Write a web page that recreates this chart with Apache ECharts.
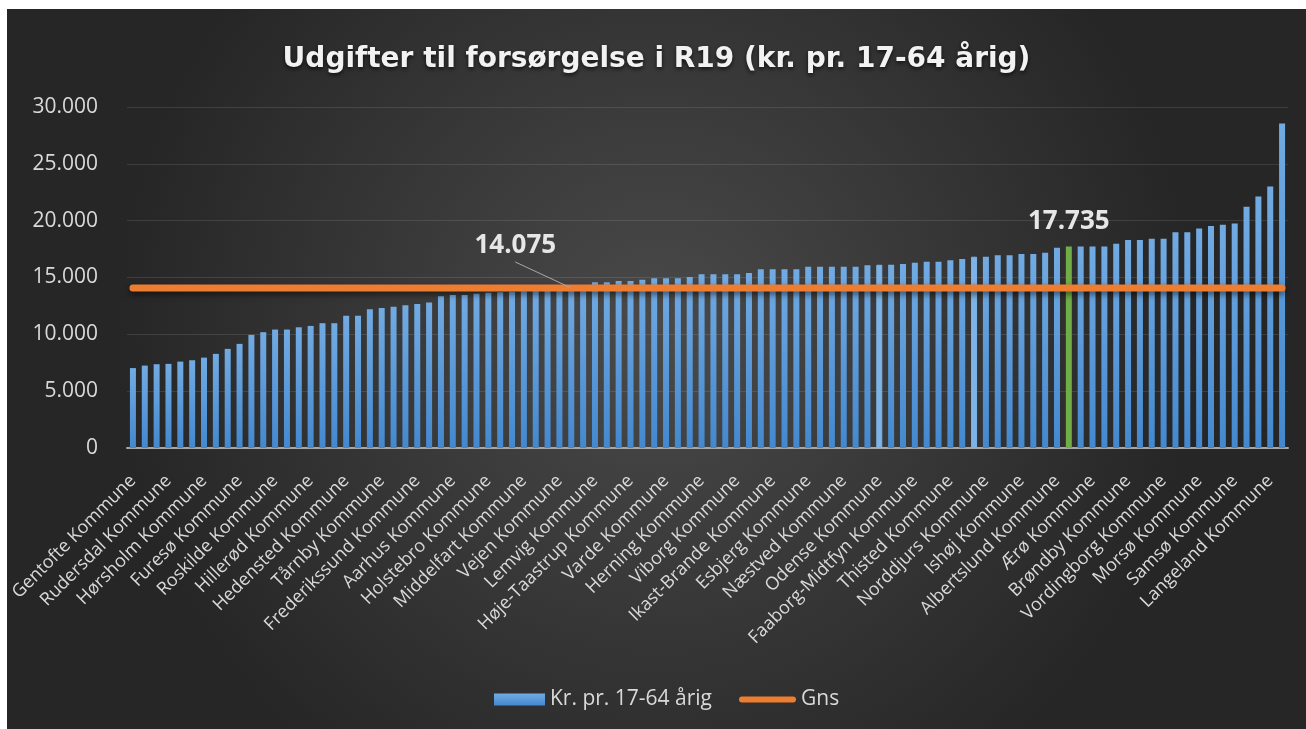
<!DOCTYPE html>
<html>
<head>
<meta charset="utf-8">
<script src="https://cdn.jsdelivr.net/npm/echarts@6/dist/echarts.min.js"></script>
<style>
  html, body { margin: 0; padding: 0; background: #ffffff; }
  #main { position: absolute; left: 7px; top: 9px; width: 1299px; height: 720px; }
</style>
</head>
<body>
<div id="main"></div>
<script>
// kommuner shown on the axis (every third bar); the others are not legible in the picture
const shownNames = ['Gentofte Kommune', 'Rudersdal Kommune', 'Hørsholm Kommune', 'Furesø Kommune',
  'Roskilde Kommune', 'Hillerød Kommune', 'Hedensted Kommune', 'Tårnby Kommune', 'Frederikssund Kommune',
  'Aarhus Kommune', 'Holstebro Kommune', 'Middelfart Kommune', 'Vejen Kommune', 'Lemvig Kommune',
  'Høje-Taastrup Kommune', 'Varde Kommune', 'Herning Kommune', 'Viborg Kommune', 'Ikast-Brande Kommune',
  'Esbjerg Kommune', 'Næstved Kommune', 'Odense Kommune', 'Faaborg-Midtfyn Kommune', 'Thisted Kommune',
  'Norddjurs Kommune', 'Ishøj Kommune', 'Albertslund Kommune', 'Ærø Kommune', 'Brøndby Kommune',
  'Vordingborg Kommune', 'Morsø Kommune', 'Samsø Kommune', 'Langeland Kommune'];

// Kr. pr. 17-64 årig, one value per kommune, sorted ascending
const udgifter = [
  7030, 7250, 7370, 7400, 7600, 7720, 7950, 8280, 8720, 9160,
  9950, 10190, 10420, 10420, 10620, 10740, 10980, 10980, 11640, 11640,
  12200, 12320, 12430, 12560, 12670, 12790, 13350, 13460, 13460, 13580,
  13650, 13700, 13750, 13800, 13900, 13950, 14050, 14150, 14250, 14580,
  14580, 14690, 14690, 14810, 14930, 14930, 14930, 15040, 15280, 15280,
  15280, 15280, 15390, 15720, 15720, 15720, 15720, 15950, 15950, 15950,
  15950, 15950, 16070, 16120, 16120, 16180, 16300, 16390, 16390, 16510,
  16620, 16830, 16830, 16950, 16950, 17060, 17060, 17180, 17620, 17735,
  17735, 17735, 17735, 17970, 18290, 18290, 18400, 18400, 18970, 18970,
  19320, 19520, 19630, 19760, 21220, 22130, 23010, 28540
];

const gnsValue = 14075;
const gns = udgifter.map(() => gnsValue);

const yTicks = [0, 5000, 10000, 15000, 20000, 25000, 30000];

const greenIdx = 79;        // highlighted kommune with value label
const lightIdx = [63, 71];  // slightly lighter bars in the original
const gnsLabelIdx = 37;     // where the Gns label is attached

const categories = udgifter.map((v, i) => (i % 3 === 0 ? shownNames[i / 3] : ''));

function fmt(v) {
  return String(Math.round(v)).replace(/\B(?=(\d{3})+(?!\d))/g, '.');
}

const blueGrad = new echarts.graphic.LinearGradient(0, 0, 0, 1, [
  { offset: 0, color: '#72abe3' },
  { offset: 1, color: '#4388cf' }
]);

const valueLabel = {
  show: true,
  formatter: p => fmt(p.value),
  color: '#e6e6e6', fontSize: 26, fontWeight: 'bold', fontFamily: 'Open Sans'
};

const barData = udgifter.map((v, i) => {
  if (i === greenIdx) {
    return {
      value: v,
      itemStyle: { color: '#70ad47' },
      label: Object.assign({ position: 'top', distance: 12 }, valueLabel)
    };
  }
  if (lightIdx.indexOf(i) >= 0) {
    return { value: v, itemStyle: { color: '#7db3e6', borderColor: '#7db3e6', borderWidth: 1 } };
  }
  return v;
});

// wide transparent box so the leader line leaves from under the label, like in Excel
const lineData = gns.map((v, i) => {
  if (i === gnsLabelIdx) {
    return {
      value: v,
      label: Object.assign({
        position: 'top', padding: [0, 75, 6, 75], backgroundColor: 'rgba(0,0,0,0)'
      }, valueLabel)
    };
  }
  return v;
});

function gnsLabelLayout(p) {
  const ax = p.rect.x + p.rect.width / 2;
  const ay = p.rect.y + p.rect.height / 2;
  return { x: ax - 56, y: ay - 42, align: 'center', verticalAlign: 'middle' };
}

const option = {
  backgroundColor: {
    type: 'radial', x: 0.5, y: 0.45, r: 0.75,
    colorStops: [
      { offset: 0, color: '#4a4a4a' },
      { offset: 1, color: '#262626' }
    ]
  },
  animation: false,
  title: {
    text: 'Udgifter til forsørgelse i R19 (kr. pr. 17-64 årig)',
    left: 'center',
    top: 32,
    textStyle: {
      color: '#f2f2f2', fontSize: 28, fontWeight: 'bold', fontFamily: 'DejaVu Sans',
      textShadowColor: 'rgba(0,0,0,0.7)', textShadowBlur: 4, textShadowOffsetY: 2
    }
  },
  legend: {
    left: 476,
    top: 675,
    itemWidth: 57,
    itemHeight: 12,
    itemGap: 27,
    symbolKeepAspect: false,
    data: [
      { name: 'Kr. pr. 17-64 årig', icon: 'path://M0,0 M57,12 M6,0 L57,0 L57,12 L6,12 Z' },
      { name: 'Gns', icon: 'path://M0,0 M57,12 M3,3 L54,3 A3,3 0 0 1 54,9 L3,9 A3,3 0 0 1 3,3 Z' }
    ],
    textStyle: { color: '#d9d9d9', fontSize: 21, fontFamily: 'Open Sans' }
  },
  grid: { left: 120, right: 18, top: 98, bottom: 281, containLabel: false },
  xAxis: {
    type: 'category',
    data: categories,
    boundaryGap: true,
    axisLine: { show: true, lineStyle: { color: '#a6a6a6', width: 2 } },
    axisTick: { show: false },
    axisLabel: {
      interval: 2,
      rotate: 45,
      margin: 30,
      color: '#d9d9d9',
      fontSize: 18,
      fontFamily: 'Open Sans'
    }
  },
  yAxis: {
    type: 'value',
    min: yTicks[0],
    max: yTicks[yTicks.length - 1],
    interval: yTicks[1] - yTicks[0],
    axisLine: { show: false },
    axisTick: { show: false },
    splitLine: { lineStyle: { color: 'rgba(255,255,255,0.11)', width: 1 } },
    axisLabel: {
      margin: 29,
      color: '#d9d9d9',
      fontSize: 21,
      fontFamily: 'Open Sans',
      formatter: v => fmt(v)
    }
  },
  series: [
    {
      name: 'Kr. pr. 17-64 årig',
      type: 'bar',
      barWidth: 6,
      itemStyle: { color: blueGrad },
      data: barData,
      z: 2
    },
    {
      name: 'Gns',
      type: 'line',
      symbol: 'circle',
      symbolSize: 2,
      showSymbol: true,
      showAllSymbol: true,
      data: lineData,
      lineStyle: {
        color: '#ed7d31', width: 7, cap: 'round',
        shadowColor: 'rgba(0,0,0,0.55)', shadowBlur: 6, shadowOffsetY: 3
      },
      itemStyle: { color: '#ed7d31' },
      labelLayout: gnsLabelLayout,
      labelLine: { show: true, lineStyle: { color: '#a8a8a8', width: 1 } },
      z: 3
    }
  ]
};

let myChart = echarts.init(document.getElementById('main'));
myChart.setOption(option);
</script>
</body>
</html>
